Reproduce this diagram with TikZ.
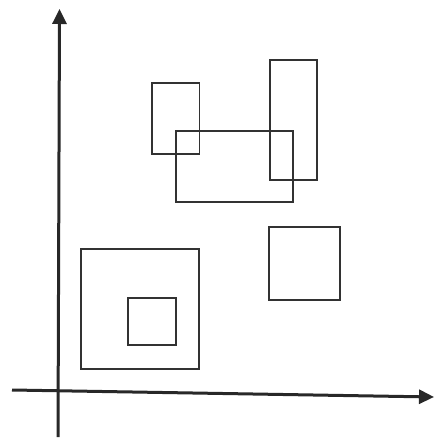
\documentclass[tikz,border=0pt]{standalone}
\usepackage{tikz}
\usetikzlibrary{arrows.meta}

\definecolor{inkgray}{RGB}{50, 50, 50}

\begin{document}
\begin{tikzpicture}[
    x=1pt, y=-1pt,
    axis/.style={line width=3pt, draw=inkgray!80!black, -{Triangle[length=15pt, width=14pt]}},
    rect/.style={draw=inkgray, line width=1.3pt}
]
    \useasboundingbox (0,0) rectangle (434,439);
    % axes
    \coordinate (ybot) at (58,437);
    \coordinate (ytop) at (59.5,9);
    \coordinate (xleft) at (12,390);
    \coordinate (xright) at (434,397);
    \draw[axis] (ybot) -- (ytop);
    \draw[axis] (xleft) -- (xright);
    % upper group
    \draw[rect] (152,83) rectangle (199.5,154);
    \draw[rect] (270,60) rectangle (317,180);
    \draw[rect] (176,131) rectangle (293,202);
    % right square
    \draw[rect] (269,227) rectangle (340,300);
    % nested squares
    \draw[rect] (81,249) rectangle (199,369);
    \draw[rect] (128,298) rectangle (176,345);
\end{tikzpicture}
\end{document}
